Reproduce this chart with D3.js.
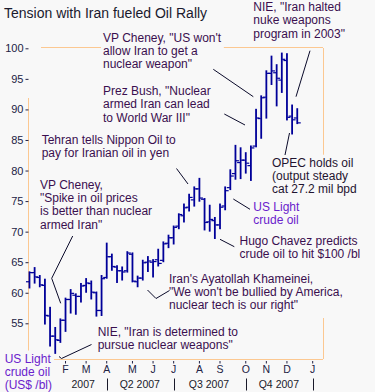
<!DOCTYPE html>
<html>
<head>
<meta charset="utf-8">
<script src="https://cdn.jsdelivr.net/npm/d3@7"></script>
<style>
  html, body { margin: 0; padding: 0; background: #f8f8f8; }
  svg { display: block; }
</style>
</head>
<body>
<svg id="chart" width="375" height="392"></svg>
<script>
// ---------------- DATA ----------------
const weeks = [
  "2006-12-11","2006-12-18","2006-12-25","2007-01-01","2007-01-08","2007-01-15","2007-01-22","2007-01-29",
  "2007-02-05","2007-02-12","2007-02-19","2007-02-26","2007-03-05","2007-03-12","2007-03-19","2007-03-26",
  "2007-04-02","2007-04-09","2007-04-16","2007-04-23","2007-04-30","2007-05-07","2007-05-14","2007-05-21",
  "2007-05-28","2007-06-04","2007-06-11","2007-06-18","2007-06-25","2007-07-02","2007-07-09","2007-07-16",
  "2007-07-23","2007-07-30","2007-08-06","2007-08-13","2007-08-20","2007-08-27","2007-09-03","2007-09-10",
  "2007-09-17","2007-09-24","2007-10-01","2007-10-08","2007-10-15","2007-10-22","2007-10-29","2007-11-05",
  "2007-11-12","2007-11-19","2007-11-26","2007-12-03","2007-12-10"
];
const openPrices = [61.8,63.3,62.5,61.2,56.2,52.9,52.2,55.5,58.9,59.6,59.4,61.2,61.5,60.0,57.1,62.5,65.9,64.2,63.6,63.6,66.3,61.8,62.4,65.0,65.0,65.4,65.3,68.1,69.0,70.9,72.6,74.0,75.2,77.0,75.3,71.6,71.8,71.1,74.2,77.2,79.5,81.3,81.7,80.8,84.0,88.5,92.0,95.9,96.0,94.8,98.0,88.9,88.6];
const highPrices = [63.5,64.2,62.9,62.3,57.7,54.4,55.8,59.2,60.6,59.9,61.6,62.4,62.0,60.2,62.9,68.2,66.4,64.5,64.3,66.8,66.6,62.8,65.4,66.0,65.5,67.2,68.4,69.5,71.0,73.0,74.6,76.2,77.4,78.8,75.5,74.4,72.4,74.6,77.4,80.2,84.2,83.8,83.0,84.1,90.1,92.3,96.4,98.8,97.4,99.3,99.2,90.8,90.2];
const lowPrices  = [60.7,61.5,60.9,54.8,51.2,50.0,51.8,53.6,56.6,56.4,58.4,60.0,58.9,56.1,56.2,62.3,63.6,61.6,62.0,63.3,61.7,60.9,62.0,63.4,62.5,64.3,65.0,67.3,67.9,70.4,71.5,73.3,74.1,74.9,70.2,70.0,68.8,70.4,73.5,76.8,78.5,78.6,79.5,78.3,83.8,85.2,88.5,94.0,90.5,92.7,88.2,85.9,87.6];
const closePrices= [63.3,62.6,61.3,56.3,52.9,52.3,55.5,58.9,59.9,59.4,61.1,61.6,60.1,57.1,62.3,65.9,64.3,63.6,63.4,66.5,61.9,62.4,64.9,65.2,65.1,64.8,68.0,69.0,70.7,72.8,73.9,75.6,77.0,75.5,71.5,72.0,71.1,74.0,76.7,79.1,81.6,81.7,81.2,83.7,88.6,91.9,95.9,96.3,95.1,98.2,88.7,88.3,87.8];

const yTicks = [55,60,65,70,75,80,85,90,95,100];
const monthTickDates = ["2007-01-29","2007-02-26","2007-03-26","2007-04-30","2007-05-28","2007-06-25","2007-07-30","2007-08-27","2007-10-01","2007-10-29","2007-11-26","2007-12-31"];
const monthLabels = ["F","M","A","M","J","J","A","S","O","N","D","J"];
const quarterLabels = ["2007","Q2 2007","Q3 2007","Q4 2007"];
const quarterLabelDates = ["2007-02-22","2007-05-10","2007-08-12","2007-11-15"];
const quarterSepDates = ["2007-03-26","2007-06-25","2007-10-01","2007-12-31"];

const titleText = "Tension with Iran fueled Oil Rally";
const annotationTexts = [
  ["VP Cheney, \"US won't", "allow Iran to get a", "nuclear weapon\""],
  ["Prez Bush, \"Nuclear", "armed Iran can lead", "to World War III\""],
  ["NIE, \"Iran halted", "nuke weapons", "program in 2003\""],
  ["Tehran tells Nippon Oil to", "pay for Iranian oil in yen"],
  ["VP Cheney,", "\"Spike in oil prices", "is better than nuclear", "armed Iran\""],
  ["US Light", "crude oil"],
  ["OPEC holds oil", "(output steady", "cat 27.2 mil bpd"],
  ["Hugo Chavez predicts", "crude oil to hit $100 /bl"],
  ["Iran's Ayatollah Khameinei,", "\"We won't be bullied by America,", "nuclear tech is our right\""],
  ["NIE, \"Iran is determined to", "pursue nuclear weapons\""],
  ["US Light", "crude oil", "(US$ /bl)"]
];

// ---------------- LAYOUT / STYLE ----------------
const W = 375, H = 392;
const BG = "#f8f8f8";
const FONT = "'Liberation Sans', Arial, sans-serif";
const frameColor = "#fcc891";
const barColor = "#000099";
const darkText = "#3a0f4f";
const violet = "#6a22cc";

const annLayout = [
  {x:103,   y:41.7,  lh:13.3, color:darkText},
  {x:103,   y:95,    lh:13.3, color:darkText},
  {x:253.3, y:11,    lh:13.3, color:darkText},
  {x:41.7,  y:144,   lh:13.0, color:darkText},
  {x:40,    y:189,   lh:13.2, color:darkText},
  {x:253.3, y:211,   lh:13.3, color:violet},
  {x:272,   y:166.7, lh:13.3, color:"#1f1430"},
  {x:239.5, y:245,   lh:13.3, color:darkText},
  {x:169,   y:282.7, lh:13.3, color:darkText},
  {x:97.7,  y:336,   lh:13.3, color:darkText},
  {x:4.7,   y:362.5, lh:13.0, color:violet}
];
const leaders = [
  [[213.3,69.3],[253.3,96.7]],
  [[224.3,114],[245,125]],
  [[310,50.7],[296,96.7]],
  [[176.5,168.5],[188,184]],
  [[72.7,236],[51.7,278.3],[60.7,303.3]],
  [[233.3,199],[250,209.3]],
  [[285,155],[289.5,133]],
  [[220,239.3],[234.3,246.7]],
  [[147.5,290],[156,298.5],[169.5,290.5]],
  [[91.5,344.5],[61.5,358.5],[59,356.5]]
];

// ---------------- SCALES ----------------
const parse = d3.timeParse("%Y-%m-%d");
const x = d3.scaleTime()
  .domain([parse("2006-12-09"), parse("2008-01-14")])
  .range([28, 323]);
const y = d3.scaleLinear().domain([49.16, 100.1]).range([359, 47.7]);

const svg = d3.select("#chart");
svg.append("rect").attr("width", W).attr("height", H).attr("fill", BG);

// frame
const [x0, x1] = x.range();
const [yb, yt] = y.range();
const frame = svg.append("g").attr("stroke", frameColor).attr("stroke-width", 1).attr("shape-rendering","crispEdges");
frame.append("line").attr("x1", x0 + 13).attr("x2", x1).attr("y1", yt).attr("y2", yt);
frame.append("line").attr("x1", x0).attr("x2", x0).attr("y1", 98).attr("y2", yb);
frame.append("line").attr("x1", x1).attr("x2", x1).attr("y1", yt).attr("y2", 155);
frame.append("line").attr("x1", x1).attr("x2", x1).attr("y1", 318).attr("y2", yb);
frame.append("line").attr("x1", x0).attr("x2", x1).attr("y1", yb).attr("y2", yb);

// y axis
const gy = svg.append("g").attr("transform", `translate(${x0 + 0.5},0)`)
  .call(d3.axisLeft(y).tickValues(yTicks).tickSize(3).tickPadding(2));
gy.select(".domain").remove();
gy.selectAll(".tick line").attr("stroke", "#222244");
gy.selectAll(".tick text").attr("fill", "#222244").attr("font-size", 11).attr("font-family", FONT);

// x axis: month ticks & letters
const gx = svg.append("g");
monthTickDates.forEach((d, i) => {
  const xp = x(parse(d));
  gx.append("line").attr("x1", xp).attr("x2", xp).attr("y1", 361).attr("y2", 363.5)
    .attr("stroke", "#222244").attr("stroke-width", 1);
  gx.append("text").attr("x", xp).attr("y", 373.3).attr("text-anchor", "middle")
    .attr("font-family", FONT).attr("font-size", 10.5).attr("fill", "#222244").text(monthLabels[i]);
});
quarterLabels.forEach((q, i) => {
  gx.append("text").attr("x", x(parse(quarterLabelDates[i]))).attr("y", 388).attr("text-anchor", "middle")
    .attr("font-family", FONT).attr("font-size", 10.5).attr("fill", "#1a1a2a").text(q);
});
quarterSepDates.forEach(d => {
  const xp = Math.round(x(parse(d))) + 0.5;
  gx.append("line").attr("x1", xp).attr("x2", xp).attr("y1", 378.5).attr("y2", 390.5)
    .attr("stroke", "#1a1a2a").attr("stroke-width", 1);
});

// OHLC bars
const bars = weeks.map((w, i) => ({date: parse(w), o: openPrices[i], h: highPrices[i], l: lowPrices[i], c: closePrices[i]}));
const gb = svg.append("g").attr("fill", barColor);
const bar = gb.selectAll("g.bar").data(bars).join("g").attr("class", "bar");
bar.append("rect")
  .attr("x", d => x(d.date) - 0.9).attr("width", 1.8)
  .attr("y", d => y(d.h)).attr("height", d => y(d.l) - y(d.h));
bar.append("rect")
  .attr("x", d => x(d.date) - 3.5).attr("width", 3)
  .attr("y", d => y(d.o) - 0.6).attr("height", 1.2);
bar.append("rect")
  .attr("x", d => x(d.date) + 0.5).attr("width", 3)
  .attr("y", d => y(d.c) - 0.6).attr("height", 1.2);

// title
svg.append("text").attr("x", 4).attr("y", 18).attr("font-family", FONT).attr("font-size", 14)
  .attr("fill", "#1a1a2e").text(titleText);

// annotations with background boxes
annotationTexts.forEach((lines, i) => {
  const L = annLayout[i];
  const g = svg.append("g");
  const t = g.append("text").attr("font-family", FONT).attr("font-size", 12).attr("fill", L.color);
  lines.forEach((ln, j) => {
    t.append("tspan").attr("x", L.x).attr("y", L.y + j * L.lh).text(ln);
  });
  const bb = t.node().getBBox();
  g.insert("rect", "text").attr("x", bb.x - 2).attr("y", bb.y - 1).attr("width", bb.width + 4)
    .attr("height", bb.height + 2).attr("fill", BG);
});

// leader lines
const lineGen = d3.line();
svg.append("g").selectAll("path").data(leaders).join("path")
  .attr("d", d => lineGen(d)).attr("fill", "none").attr("stroke", "#0a0a2a").attr("stroke-width", 1);
</script>
</body>
</html>
